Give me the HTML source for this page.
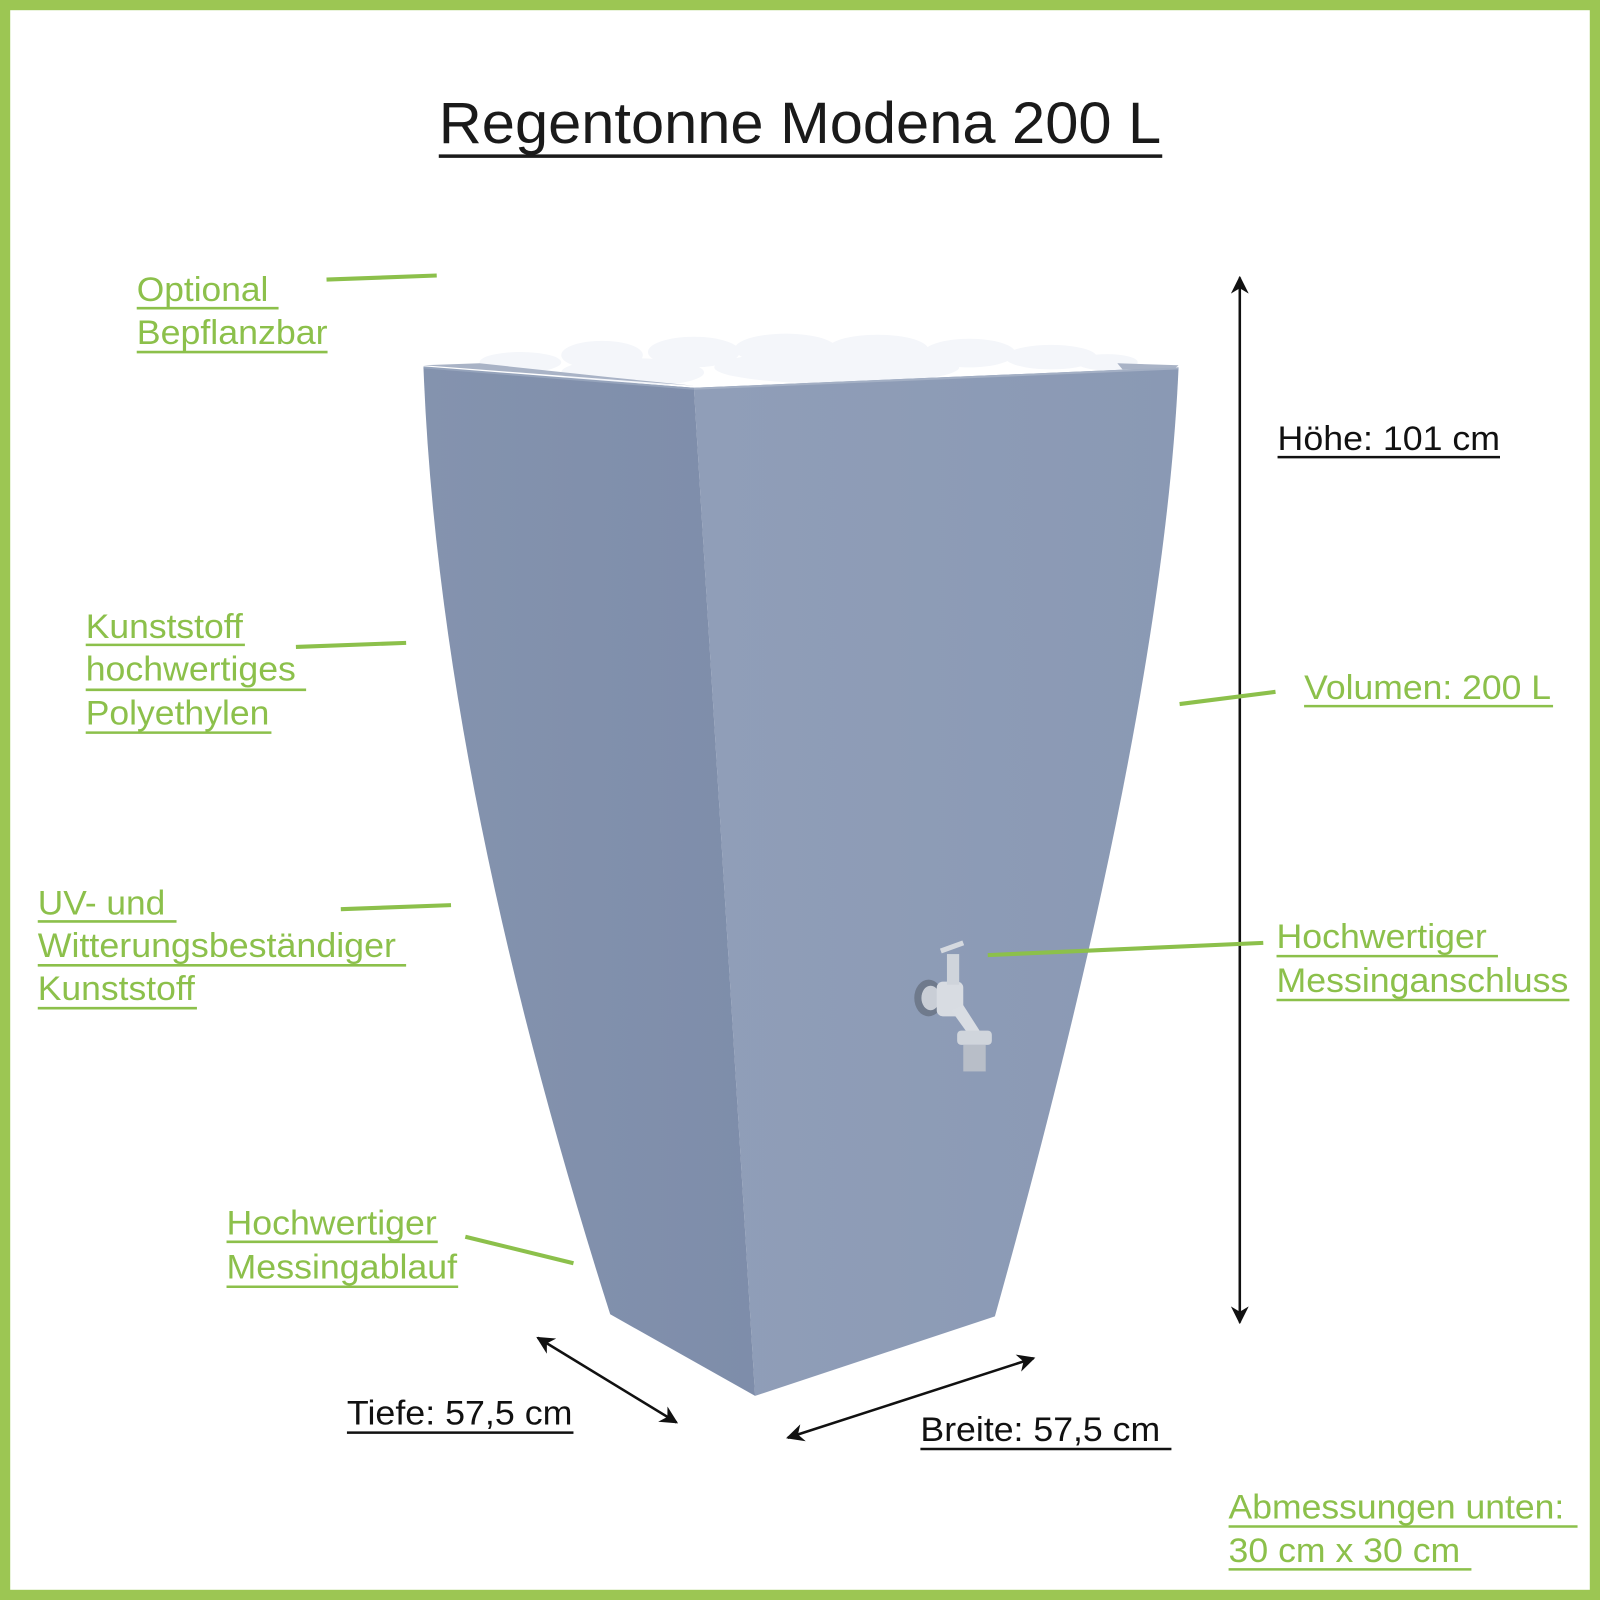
<!DOCTYPE html>
<html><head><meta charset="utf-8"><style>
html,body{margin:0;padding:0;background:#fff}
svg{display:block}
text{font-family:"Liberation Sans",sans-serif}
.g{fill:#8cc04b;font-size:34px}
.k{fill:#111;font-size:34px}
.gl{stroke:#8cc04b;stroke-width:2.5}
.kl{stroke:#111;stroke-width:2.5}
.gc{stroke:#8cc04b;stroke-width:4}
</style></head><body>
<svg width="1600" height="1600" viewBox="0 0 1568 1568" xmlns="http://www.w3.org/2000/svg">
<defs>
<marker id="ah" viewBox="0 0 10 10" refX="9" refY="5" markerWidth="7" markerHeight="7" orient="auto-start-reverse">
<path d="M0,0 L10,5 L0,10 L3,5 z" fill="#111"/></marker>
<linearGradient id="lf" x1="0" x2="1"><stop offset="0" stop-color="#8493ae"/><stop offset="1" stop-color="#7e8daa"/></linearGradient>
<linearGradient id="ff" x1="0" x2="1"><stop offset="0" stop-color="#909eb8"/><stop offset="1" stop-color="#8a99b4"/></linearGradient>
</defs>
<rect x="5" y="5" width="1558" height="1558" fill="#fff" stroke="#9cc653" stroke-width="10"/>

<text x="430" y="140" font-size="57" fill="#1a1a1a" textLength="708" lengthAdjust="spacingAndGlyphs">Regentonne Modena 200 L</text>
<line x1="430" y1="153" x2="1139" y2="153" stroke="#1a1a1a" stroke-width="3.5"/>

<!-- stones -->
<g fill="#f4f6fa">
<ellipse cx="510" cy="355" rx="40" ry="10"/><ellipse cx="590" cy="348" rx="40" ry="14"/>
<ellipse cx="680" cy="345" rx="45" ry="15"/><ellipse cx="770" cy="342" rx="50" ry="15"/>
<ellipse cx="860" cy="343" rx="50" ry="15"/><ellipse cx="950" cy="346" rx="45" ry="14"/>
<ellipse cx="1030" cy="350" rx="45" ry="12"/><ellipse cx="1085" cy="355" rx="30" ry="8"/>
<ellipse cx="620" cy="365" rx="70" ry="14"/><ellipse cx="820" cy="360" rx="120" ry="16"/>
</g>
<!-- barrel -->
<path d="M680,380 L1155,360 Q1140,700 975,1290 L740,1368 Z" fill="url(#ff)"/>
<path d="M415,360 L680,380 L740,1368 L598,1288 Q430,760 415,360 Z" fill="url(#lf)"/>
<path d="M415,358 L470,356 L600,370 L680,378 Z" fill="#a9b3c6"/>
<path d="M1095,356 L1155,358 L1150,362 L1100,362 Z" fill="#a9b3c6"/>
<line x1="680" y1="381" x2="1155" y2="361" stroke="#a3afc4" stroke-width="2"/>
<line x1="415" y1="360" x2="680" y2="381" stroke="#95a3bb" stroke-width="2"/>

<!-- faucet -->
<g>
<ellipse cx="910" cy="978" rx="14" ry="18" fill="#6f7a8c"/>
<ellipse cx="912" cy="978" rx="9" ry="12" fill="#c9ced6"/>
<rect x="918" y="962" width="26" height="34" rx="6" fill="#d8dce2"/>
<rect x="928" y="935" width="12" height="30" fill="#cfd4db"/>
<line x1="922" y1="932" x2="944" y2="924" stroke="#d5d9df" stroke-width="5"/>
<path d="M932,990 L950,1015 L960,1010 L944,985 Z" fill="#d9dde3"/>
<rect x="938" y="1010" width="34" height="14" rx="4" fill="#d0d5dc"/>
<rect x="944" y="1024" width="22" height="26" fill="#b8bec8"/>
</g>

<!-- dimension arrows -->
<line x1="1215" y1="272" x2="1215" y2="1296" class="kl" marker-start="url(#ah)" marker-end="url(#ah)"/>
<line x1="527" y1="1311" x2="663" y2="1394" class="kl" marker-start="url(#ah)" marker-end="url(#ah)"/>
<line x1="772" y1="1409" x2="1013" y2="1331" class="kl" marker-start="url(#ah)" marker-end="url(#ah)"/>

<!-- connectors -->
<line x1="320" y1="274" x2="428" y2="270" class="gc"/>
<line x1="290" y1="634" x2="398" y2="630" class="gc"/>
<line x1="334" y1="891" x2="442" y2="887" class="gc"/>
<line x1="456" y1="1212" x2="562" y2="1238" class="gc"/>
<line x1="1156" y1="690" x2="1250" y2="678" class="gc"/>
<line x1="968" y1="936" x2="1238" y2="924" class="gc"/>

<!-- labels -->
<g lengthAdjust="spacingAndGlyphs">
<text x="134" y="295" class="g" textLength="129" lengthAdjust="spacingAndGlyphs">Optional</text><line x1="134" y1="302" x2="273" y2="302" class="gl"/>
<text x="134" y="337" class="g" textLength="187" lengthAdjust="spacingAndGlyphs">Bepflanzbar</text><line x1="134" y1="345" x2="321" y2="345" class="gl"/>

<text x="84" y="625" class="g" textLength="154" lengthAdjust="spacingAndGlyphs">Kunststoff</text><line x1="84" y1="632" x2="240" y2="632" class="gl"/>
<text x="84" y="667" class="g" textLength="206" lengthAdjust="spacingAndGlyphs">hochwertiges</text><line x1="84" y1="676" x2="300" y2="676" class="gl"/>
<text x="84" y="710" class="g" textLength="180" lengthAdjust="spacingAndGlyphs">Polyethylen</text><line x1="84" y1="718" x2="266" y2="718" class="gl"/>

<text x="37" y="896" class="g" textLength="125" lengthAdjust="spacingAndGlyphs">UV- und</text><line x1="37" y1="903" x2="173" y2="903" class="gl"/>
<text x="37" y="938" class="g" textLength="351" lengthAdjust="spacingAndGlyphs">Witterungsbeständiger</text><line x1="37" y1="946" x2="398" y2="946" class="gl"/>
<text x="37" y="980" class="g" textLength="154" lengthAdjust="spacingAndGlyphs">Kunststoff</text><line x1="37" y1="988" x2="193" y2="988" class="gl"/>

<text x="222" y="1210" class="g" textLength="206" lengthAdjust="spacingAndGlyphs">Hochwertiger</text><line x1="222" y1="1217" x2="429" y2="1217" class="gl"/>
<text x="222" y="1253" class="g" textLength="226" lengthAdjust="spacingAndGlyphs">Messingablauf</text><line x1="222" y1="1261" x2="449" y2="1261" class="gl"/>

<text x="1252" y="441" class="k" textLength="218" lengthAdjust="spacingAndGlyphs">Höhe: 101 cm</text><line x1="1252" y1="448" x2="1470" y2="448" class="kl"/>
<text x="1278" y="685" class="g" textLength="242" lengthAdjust="spacingAndGlyphs">Volumen: 200 L</text><line x1="1278" y1="692" x2="1522" y2="692" class="gl"/>
<text x="1251" y="929" class="g" textLength="206" lengthAdjust="spacingAndGlyphs">Hochwertiger</text><line x1="1251" y1="937" x2="1468" y2="937" class="gl"/>
<text x="1251" y="972" class="g" textLength="286" lengthAdjust="spacingAndGlyphs">Messinganschluss</text><line x1="1251" y1="980" x2="1538" y2="980" class="gl"/>

<text x="340" y="1396" class="k" textLength="221" lengthAdjust="spacingAndGlyphs">Tiefe: 57,5 cm</text><line x1="340" y1="1404" x2="562" y2="1404" class="kl"/>
<text x="902" y="1412" class="k" textLength="235" lengthAdjust="spacingAndGlyphs">Breite: 57,5 cm</text><line x1="902" y1="1420" x2="1148" y2="1420" class="kl"/>

<text x="1204" y="1488" class="g" textLength="329" lengthAdjust="spacingAndGlyphs">Abmessungen unten:</text><line x1="1204" y1="1496" x2="1546" y2="1496" class="gl"/>
<text x="1204" y="1531" class="g" textLength="227" lengthAdjust="spacingAndGlyphs">30 cm x 30 cm</text><line x1="1204" y1="1538" x2="1442" y2="1538" class="gl"/>
</g>
</svg>
</body></html>
